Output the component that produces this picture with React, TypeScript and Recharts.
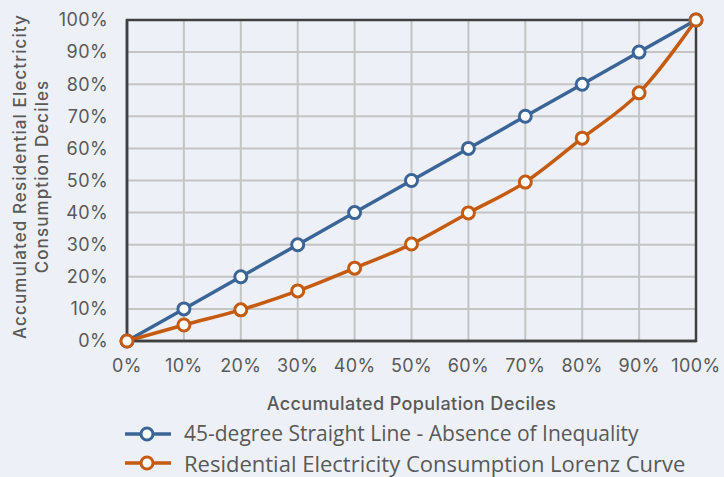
import { LineChart, Line, XAxis, YAxis, CartesianGrid, ReferenceArea, Legend, Label } from "recharts"

const deciles = [0, 10, 20, 30, 40, 50, 60, 70, 80, 90, 100]
const equalityLine = [0, 10, 20, 30, 40, 50, 60, 70, 80, 90, 100]
const lorenzCurve = [0, 5, 9.7, 15.6, 22.7, 30.2, 39.9, 49.5, 63.2, 77.3, 100]
const yTicks = [0, 10, 20, 30, 40, 50, 60, 70, 80, 90, 100]

const BLUE = "#3b6596"
const ORANGE = "#c55a11"
const TEXT = "#595959"
const TICK_FONT = "Inter, 'Open Sans', sans-serif"

const data = deciles.map((d, i) => ({ x: d, eq: equalityLine[i], lorenz: lorenzCurve[i] }))

const legendItems = [
  { label: "45-degree Straight Line - Absence of Inequality", color: BLUE, size: 21 },
  { label: "Residential Electricity Consumption Lorenz Curve", color: ORANGE, size: 22 },
]

function LegendContent() {
  return (
    <div style={{ paddingLeft: 125 }}>
      {legendItems.map((item) => (
        <div key={item.label} style={{ display: "flex", alignItems: "center", height: 29, whiteSpace: "nowrap" }}>
          <svg width={46} height={20} style={{ marginRight: 13, flex: "none" }}>
            <line x1={0} y1={10} x2={46} y2={10} stroke={item.color} strokeWidth={3.5} />
            <circle cx={22} cy={10} r={6} fill="#fff" stroke={item.color} strokeWidth={3} />
          </svg>
          <span style={{ fontFamily: "'Open Sans', sans-serif", fontSize: item.size, color: TEXT, lineHeight: 1 }}>
            {item.label}
          </span>
        </div>
      ))}
    </div>
  )
}

function YLabel(props: any) {
  const { viewBox } = props
  const cy = viewBox.y + viewBox.height / 2 - 4
  return (
    <g fill={TEXT} fontSize={17} fontWeight={500} fontFamily={TICK_FONT} textAnchor="middle" letterSpacing={1.1}>
      <text transform={`translate(26, ${cy}) rotate(-90)`}>Accumulated Residential Electricity</text>
      <text transform={`translate(48, ${cy}) rotate(-90)`}>Consumption Deciles</text>
    </g>
  )
}

const tickStyle = { fill: TEXT, fontSize: 18, fontFamily: TICK_FONT, letterSpacing: 0.4 }

export default function App() {
  return (
    <div style={{ position: "absolute", left: 0, top: 0, width: 724, height: 477, background: "#edf1f7", overflow: "hidden" }}>
      <LineChart width={724} height={477} data={data} margin={{ top: 20, right: 28, bottom: 0, left: 0 }}>
        <CartesianGrid stroke="#c4c4c4" strokeWidth={2} />
        <XAxis
          dataKey="x"
          type="number"
          domain={[0, 100]}
          ticks={deciles}
          tickFormatter={(v) => `${v}%`}
          axisLine={{ stroke: "#404040", strokeWidth: 2.5 }}
          tickLine={false}
          tick={tickStyle}
          tickMargin={12}
          height={78}
        >
          <Label
            value="Accumulated Population Deciles"
            position="insideBottom"
            offset={9}
            style={{ fill: TEXT, fontSize: 18, fontWeight: 500, fontFamily: TICK_FONT, letterSpacing: 0.4 }}
          />
        </XAxis>
        <YAxis
          type="number"
          domain={[0, 100]}
          ticks={yTicks}
          tickFormatter={(v) => `${v}%`}
          axisLine={{ stroke: "#404040", strokeWidth: 2.5 }}
          tickLine={false}
          tick={tickStyle}
          tickMargin={13}
          width={127}
        >
          <Label content={<YLabel />} />
        </YAxis>
        <ReferenceArea x1={0} x2={100} y1={0} y2={100} fill="none" stroke="#404040" strokeWidth={2.5} ifOverflow="visible" />
        <Line
          dataKey="eq"
          stroke={BLUE}
          strokeWidth={3.5}
          dot={{ r: 6, fill: "#fff", stroke: BLUE, strokeWidth: 3 }}
          isAnimationActive={false}
        />
        <Line
          dataKey="lorenz"
          type="monotone"
          stroke={ORANGE}
          strokeWidth={3.5}
          dot={{ r: 6, fill: "#fff", stroke: ORANGE, strokeWidth: 3 }}
          isAnimationActive={false}
        />
        <Legend verticalAlign="bottom" content={<LegendContent />} wrapperStyle={{ bottom: 0, left: 0, width: 724 }} />
      </LineChart>
    </div>
  )
}
